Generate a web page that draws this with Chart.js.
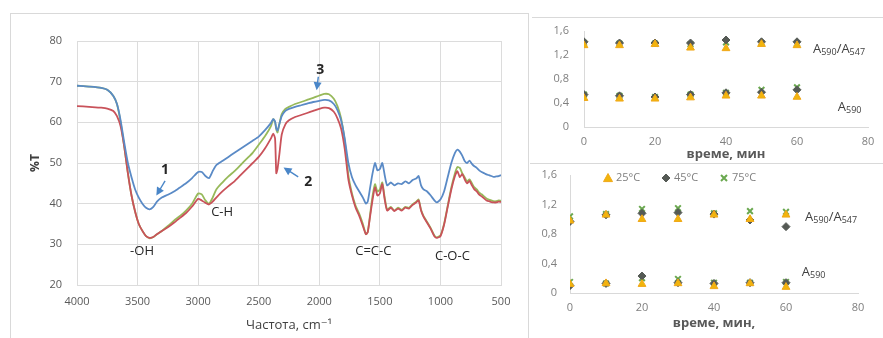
<!DOCTYPE html>
<html>
<head>
<meta charset="utf-8">
<script src="https://cdn.jsdelivr.net/npm/chart.js@4.4.1/dist/chart.umd.min.js"></script>
<style>
  html, body { margin: 0; padding: 0; background: #fff; width: 883px; height: 338px; overflow: hidden; position: relative; }
  .frame { position: absolute; box-sizing: border-box; }
  #ftirFrame { left: 10px; top: 13px; width: 519px; height: 345px; border: 1px solid #d9d9d9; }
  #topFrame { left: 532px; top: 17px; width: 360px; height: 146px; border-top: 1px solid #d9d9d9; }
  #botFrame { left: 530px; top: 163px; width: 360px; height: 190px; border-top: 1px solid #d9d9d9; }
  canvas { position: absolute; }
  #botClip { position: absolute; left: 530px; top: 164px; width: 353px; height: 174px; overflow: hidden; }
</style>
</head>
<body>
<div class="frame" id="ftirFrame"></div>
<div class="frame" id="topFrame"></div>
<div class="frame" id="botFrame"></div>
<canvas id="ftir" width="518" height="325" style="left:10px;top:13px"></canvas>
<canvas id="kinTop" width="351" height="145" style="left:532px;top:18px"></canvas>
<div id="botClip"><canvas id="kinBot" width="363" height="174" style="left:-10px;top:0"></canvas></div>
<script>
// ---------- FTIR spectra (wavenumber, cm-1 -> %T) ----------
const wavenumbers = [
  4000, 3900, 3800, 3750, 3700, 3670, 3640, 3610, 3580, 3550, 3520, 3490, 3460, 3430, 3400, 3370, 3340, 3300,
  3250, 3200, 3150, 3100, 3050, 3000, 2970, 2940, 2910, 2880, 2850, 2800, 2750, 2700, 2650, 2600, 2550, 2500,
  2450, 2400, 2380, 2365, 2355, 2345, 2330, 2310, 2280, 2250, 2200, 2150, 2100, 2050, 2000, 1960, 1920, 1880,
  1850, 1820, 1790, 1760, 1730, 1700, 1670, 1640, 1615, 1600, 1580, 1560, 1540, 1520, 1500, 1480, 1460, 1440,
  1410, 1380, 1350, 1320, 1290, 1260, 1230, 1200, 1180, 1160, 1140, 1110, 1080, 1050, 1030, 1000, 970, 940,
  910, 880, 860, 840, 820, 800, 780, 760, 740, 720, 700, 680, 660, 640, 620, 600, 580, 560, 540, 520, 500
];
const spectrum1 = [
  69, 68.8, 68.5, 68, 66.5, 64.5, 60.5, 55, 50, 46.5, 43.5, 41.5, 40, 39, 38.6, 39.2, 40.5, 41.5,
  42.2, 43, 44, 45, 46.3, 47.8, 47.8, 46.8, 46.3, 48, 49.5, 50.5, 51.5, 52.5, 53.5, 54.5, 55.5, 56.5,
  58, 59.8, 60.8, 60.2, 58.5, 58, 59.5, 61.5, 62.8, 63.3, 63.8, 64.2, 64.6, 65, 65.3, 65.5, 65.4, 64.5,
  63, 60.5, 56, 50, 46.5, 44.5, 43, 41.5, 40, 40.5, 44, 47.5, 50, 48.2, 48.5, 50, 47, 44.5,
  45.2, 44.5, 45, 44.8, 45.5, 45, 45.8, 46.2, 46.8, 44.5, 43.5, 43, 42, 40.8, 40.3, 41, 43, 46.5,
  50, 52.5, 53.3, 52.8, 51.8, 50.5, 50, 50.6, 49.8, 49.2, 48.8, 48.2, 47.8, 47.5, 47.2, 47, 46.8, 46.6, 46.7, 46.8, 47
];
const spectrum2 = [
  64, 63.8, 63.6, 63.4, 62.8, 61.5, 59, 54, 47.5, 42, 38, 35, 33.3, 32, 31.6, 31.8, 32.5, 33.3,
  34.2, 35.3, 36.5, 37.7, 39.3, 41.2, 40.8, 40.2, 39.8, 40.5, 41.5, 43, 44.3, 45.5, 47, 48.5, 50, 51.5,
  53.5, 56, 57.2, 56, 47.5, 48.5, 52, 57, 59.5, 60.5, 61.3, 61.8, 62.3, 62.8, 63.3, 63.6, 63.5, 62.6,
  61, 58.5, 53.5, 46, 42, 39, 37, 34.5, 32.5, 33, 37, 41, 44, 42, 42.5, 44.8, 41, 38.3,
  39, 38.2, 38.8, 38.3, 39, 38.8, 39.7, 40.3, 40.8, 38.3, 36.8, 35.3, 33.8, 32, 31.6, 32, 34.8, 39.2,
  43.5, 46.8, 48, 46.5, 47.3, 46, 45, 45.6, 44.5, 43.5, 43, 42.2, 41.8, 41.3, 40.8, 40.6, 40.4, 40.3, 40.3, 40.5, 40.4
];
const spectrum3 = [
  69, 68.8, 68.5, 68, 66.5, 64.5, 60, 54, 47.5, 42, 38, 35, 33.3, 32, 31.5, 31.8, 32.5, 33.3,
  34.5, 35.8, 37, 38.3, 40, 42.5, 42.3, 40.8, 40, 41.5, 43.5, 45.2, 46.7, 48, 49.5, 51, 52.5, 54.5,
  56.5, 59, 60.8, 60, 58.3, 57.5, 59.5, 62, 63.3, 63.8, 64.5, 65, 65.5, 66, 66.6, 67, 66.9, 65.8,
  64, 61, 55.5, 47, 42.5, 39.5, 37.5, 35, 32.5, 33, 37.5, 42, 44.8, 43, 43.5, 45.2, 41.5, 38.5,
  39.2, 38.3, 39, 38.5, 39.2, 39, 39.8, 40.5, 41, 38.5, 37, 35.5, 34, 32.2, 31.7, 32.2, 35, 39.5,
  44, 47.5, 49, 48.8, 47.5, 46.5, 45.5, 46, 45, 44, 43.5, 42.7, 42.3, 41.8, 41.3, 41, 40.8, 40.6, 40.6, 40.8, 40.7
];

// Band assignments and sample numbers placed on the spectrum (data coordinates)
const bandLabels = [
  { text: '1', wn: 3273, t: 48.3, bold: true },
  { text: '2', wn: 2091, t: 45.4, bold: true },
  { text: '3', wn: 1992, t: 72.9, bold: true },
  { text: '-OH', wn: 3463, t: 28.2 },
  { text: 'C-H', wn: 2802, t: 38.0 },
  { text: 'C=C-C', wn: 1554, t: 28.2 },
  { text: 'C-O-C', wn: 901, t: 27.0 }
];
const bandArrows = [
  { from: [3273, 45.6], to: [3345, 42.0] },
  { from: [2174, 46.6], to: [2295, 48.9] },
  { from: [2008, 71.2], to: [2022, 67.9] }
];

// ---------- Kinetics: absorbance vs time ----------
const minutes = [0, 10, 20, 30, 40, 50, 60];
const tempLabels = ['25°C', '45°C', '75°C'];

// upper panel
const ratioA_25 = [1.36, 1.36, 1.38, 1.32, 1.31, 1.38, 1.36];
const ratioA_45 = [1.42, 1.40, 1.40, 1.40, 1.45, 1.42, 1.42];
const ratioA_75 = [1.40, 1.39, 1.39, 1.38, 1.41, 1.40, 1.39];
const a590A_25 = [0.48, 0.47, 0.47, 0.49, 0.52, 0.52, 0.50];
const a590A_45 = [0.54, 0.52, 0.50, 0.54, 0.57, 0.58, 0.62];
const a590A_75 = [0.54, 0.52, 0.50, 0.54, 0.57, 0.62, 0.66];

// lower panel
const ratioB_25 = [0.98, 1.06, 1.00, 1.00, 1.06, 1.00, 1.06];
const ratioB_45 = [0.97, 1.06, 1.08, 1.09, 1.07, 0.99, 0.90];
const ratioB_75 = [1.04, 1.07, 1.14, 1.15, 1.08, 1.11, 1.10];
const a590B_25 = [0.12, 0.13, 0.12, 0.13, 0.09, 0.13, 0.08];
const a590B_45 = [0.10, 0.13, 0.23, 0.14, 0.13, 0.14, 0.14];
const a590B_75 = [0.15, 0.13, 0.20, 0.19, 0.14, 0.14, 0.15];

const FONT = "'Open Sans', 'DejaVu Sans', sans-serif";
Chart.defaults.font.family = FONT;
Chart.defaults.animation = false;

const pairs = (xs, ys) => xs.map((v, i) => ({ x: v, y: ys[i] }));

// ---------- FTIR chart ----------
const ftirDecor = {
  id: 'ftirDecor',
  afterDatasetsDraw(chart, args, opts) {
    const { ctx, scales: { x, y } } = chart;
    ctx.save();
    ctx.strokeStyle = opts.arrowColor;
    ctx.fillStyle = opts.arrowColor;
    ctx.lineWidth = 1.4;
    opts.arrows.forEach(a => {
      const x1 = x.getPixelForValue(a.from[0]), y1 = y.getPixelForValue(a.from[1]);
      const x2 = x.getPixelForValue(a.to[0]), y2 = y.getPixelForValue(a.to[1]);
      const ang = Math.atan2(y2 - y1, x2 - x1), c = Math.cos(ang), s = Math.sin(ang);
      ctx.beginPath();
      ctx.moveTo(x1, y1);
      ctx.lineTo(x2 - 5 * c, y2 - 5 * s);
      ctx.stroke();
      ctx.beginPath();
      ctx.moveTo(x2, y2);
      ctx.lineTo(x2 - 8 * c + 4 * s, y2 - 8 * s - 4 * c);
      ctx.lineTo(x2 - 8 * c - 4 * s, y2 - 8 * s + 4 * c);
      ctx.closePath();
      ctx.fill();
    });
    ctx.fillStyle = opts.textColor;
    ctx.textAlign = 'center';
    ctx.textBaseline = 'middle';
    opts.labels.forEach(l => {
      ctx.font = (l.bold ? 'bold 14px ' : '13px ') + FONT;
      ctx.fillText(l.text, x.getPixelForValue(l.wn), y.getPixelForValue(l.t));
    });
    ctx.restore();
  }
};

new Chart(document.getElementById('ftir'), {
  type: 'line',
  data: {
    datasets: [
      { label: '1', data: pairs(wavenumbers, spectrum1), borderColor: '#5a8ac6' },
      { label: '2', data: pairs(wavenumbers, spectrum2), borderColor: '#c9525a' },
      { label: '3', data: pairs(wavenumbers, spectrum3), borderColor: '#97b95a' }
    ].map(d => Object.assign(d, { borderWidth: 1.8, pointRadius: 0, tension: 0.2, fill: false }))
  },
  options: {
    responsive: false,
    layout: { padding: { top: 28, right: 27, left: 0, bottom: 0 } },
    plugins: {
      legend: { display: false },
      tooltip: { enabled: false },
      ftirDecor: { arrows: bandArrows, labels: bandLabels, arrowColor: '#4a86c8', textColor: '#262626' }
    },
    scales: {
      x: {
        type: 'linear', reverse: true, min: 500, max: 4000,
        grid: { color: '#dcdcdc', drawTicks: true, tickLength: 10, tickColor: 'rgba(0,0,0,0)' },
        border: { color: '#dcdcdc' },
        ticks: { stepSize: 500, padding: 0, color: '#595959', font: { size: 11 }, callback: v => String(v) },
        title: { display: true, text: 'Частота, cm⁻¹', color: '#404040', font: { size: 13 }, padding: 5 },
        afterFit: s => { s.height = 53; }
      },
      y: {
        min: 20, max: 80,
        grid: { color: '#dcdcdc', drawTicks: true, tickLength: 15, tickColor: 'rgba(0,0,0,0)' },
        border: { color: '#dcdcdc' },
        ticks: { stepSize: 10, padding: 0, color: '#595959', font: { size: 11 } },
        title: { display: true, text: '%T', color: '#404040', font: { size: 12, weight: 'bold' }, padding: 18 },
        afterFit: s => { s.width = 67; }
      }
    }
  },
  plugins: [ftirDecor]
});

// ---------- Kinetics charts ----------
const markerStyles = [
  { pointStyle: 'triangle', backgroundColor: '#f2b50c', borderColor: '#f0a81a', borderWidth: 1, pointRadius: 4.5 },
  { pointStyle: 'rectRot', backgroundColor: '#555a55', borderColor: '#555a55', borderWidth: 1, pointRadius: 4 },
  { pointStyle: 'crossRot', backgroundColor: '#6aa84f', borderColor: '#6aa84f', borderWidth: 2, pointRadius: 4 }
];

function drawMarker(ctx, style, x, y) {
  const r = style.pointRadius;
  ctx.fillStyle = style.backgroundColor;
  ctx.strokeStyle = style.borderColor;
  ctx.lineWidth = style.borderWidth;
  ctx.beginPath();
  if (style.pointStyle === 'triangle') {
    ctx.moveTo(x, y - r); ctx.lineTo(x + r, y + r * 0.8); ctx.lineTo(x - r, y + r * 0.8); ctx.closePath();
    ctx.fill(); ctx.stroke();
  } else if (style.pointStyle === 'rectRot') {
    ctx.moveTo(x, y - r); ctx.lineTo(x + r, y); ctx.lineTo(x, y + r); ctx.lineTo(x - r, y); ctx.closePath();
    ctx.fill(); ctx.stroke();
  } else {
    const d = r * 0.75;
    ctx.moveTo(x - d, y - d); ctx.lineTo(x + d, y + d);
    ctx.moveTo(x + d, y - d); ctx.lineTo(x - d, y + d);
    ctx.stroke();
  }
}

const kinDecor = {
  id: 'kinDecor',
  afterDatasetsDraw(chart, args, opts) {
    const { ctx, scales: { x, y }, chartArea } = chart;
    ctx.save();
    ctx.textBaseline = 'middle';
    ctx.textAlign = 'left';
    (opts.tags || []).forEach(tag => {
      let px = x.getPixelForValue(tag.x);
      const py = y.getPixelForValue(tag.y);
      tag.parts.forEach(([txt, sub]) => {
        ctx.font = (sub ? '9px ' : '13px ') + FONT;
        ctx.fillStyle = '#404040';
        ctx.fillText(txt, px, py + (sub ? 3 : 0));
        px += ctx.measureText(txt).width;
      });
    });
    if (opts.legend) {
      let lx = chartArea.left + opts.legend.offsetX;
      const ly = chartArea.top + opts.legend.offsetY;
      chart.data.datasets.forEach((ds, i) => {
        drawMarker(ctx, markerStyles[i], lx, ly);
        ctx.font = '11px ' + FONT;
        ctx.fillStyle = '#7f7f7f';
        ctx.fillText(ds.label, lx + 8, ly);
        lx += opts.legend.step;
      });
    }
    ctx.restore();
  }
};

const ratioTag = { parts: [['A', 0], ['590', 1], ['/A', 0], ['547', 1]] };
const a590Tag = { parts: [['A', 0], ['590', 1]] };
const hidden = 'rgba(0,0,0,0)';

function kineticsChart(canvasId, ratios, a590s, box, decor, axisTitle) {
  return new Chart(document.getElementById(canvasId), {
    type: 'scatter',
    data: {
      datasets: tempLabels.map((label, i) => Object.assign({
        label,
        data: pairs(minutes, ratios[i]).concat(pairs(minutes, a590s[i])),
        showLine: false
      }, markerStyles[i]))
    },
    options: {
      responsive: false,
      layout: { padding: { top: box.top, right: box.right, left: 0, bottom: 0 } },
      plugins: { legend: { display: false }, tooltip: { enabled: false }, kinDecor: decor },
      scales: {
        x: {
          min: 0, max: 80,
          grid: { color: hidden, drawTicks: true, tickLength: box.xPad, tickColor: hidden },
          border: { color: '#d9d9d9' },
          ticks: { stepSize: 20, padding: 0, color: '#7f7f7f', font: { size: 11 } },
          title: { display: true, text: axisTitle, color: '#595959', font: { size: 13, weight: 'bold' }, padding: box.titlePad },
          afterFit: s => { s.height = box.xHeight; }
        },
        y: {
          min: 0, max: 1.6,
          grid: { color: hidden, drawTicks: true, tickLength: box.yPad, tickColor: hidden },
          border: { color: '#d9d9d9' },
          ticks: {
            stepSize: 0.4, padding: 0, color: '#7f7f7f', font: { size: 11 },
            callback: v => (Math.abs(v) < 1e-9 ? '0' : v.toFixed(1).replace('.', ','))
          },
          afterFit: s => { s.width = box.yWidth; }
        }
      }
    },
    plugins: [kinDecor]
  });
}

kineticsChart('kinTop',
  [ratioA_25, ratioA_45, ratioA_75], [a590A_25, a590A_45, a590A_75],
  { top: 13, right: 15, xHeight: 36, yWidth: 52, xPad: 8, yPad: 15, titlePad: 1 },
  { tags: [Object.assign({ x: 64.5, y: 1.29 }, ratioTag), Object.assign({ x: 71.5, y: 0.33 }, a590Tag)] },
  'време, мин');

kineticsChart('kinBot',
  [ratioB_25, ratioB_45, ratioB_75], [a590B_25, a590B_45, a590B_75],
  { top: 11, right: 25, xHeight: 45, yWidth: 50, xPad: 8, yPad: 13, titlePad: 7 },
  { tags: [Object.assign({ x: 65.3, y: 1.03 }, ratioTag), Object.assign({ x: 64.4, y: 0.28 }, a590Tag)],
    legend: { offsetX: 38, offsetY: 3, step: 58 } },
  'време, мин,');
</script>
</body>
</html>
